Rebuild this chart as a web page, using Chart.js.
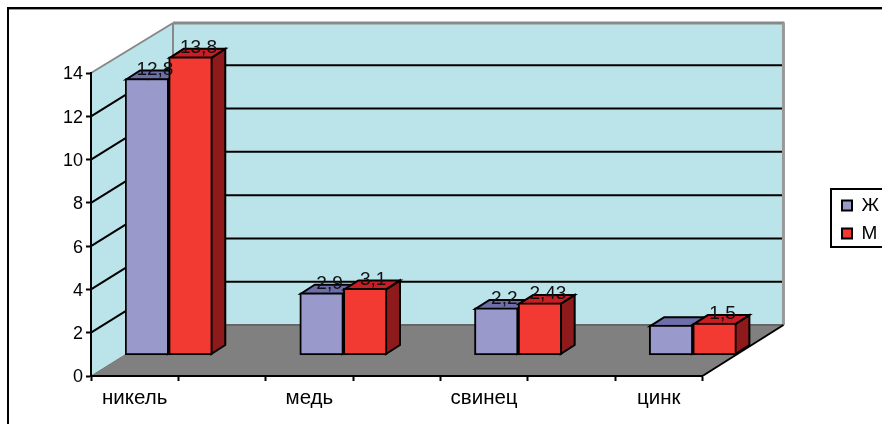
<!DOCTYPE html>
<html lang="ru">
<head>
<meta charset="UTF-8">
<title>Металлы</title>
<style>
    html, body { margin: 0; padding: 0; background: #fff; }
    canvas { display: block; }
</style>
<script src="https://cdn.jsdelivr.net/npm/chart.js@4"></script>
</head>
<body>
<canvas id="myChart" width="882" height="424"></canvas>
<script>
const categories = ['никель', 'медь', 'свинец', 'цинк'];
const seriesNames = ['Ж', 'М'];
const femaleValues = [12.8, 2.9, 2.2, 1.4];
const maleValues = [13.8, 3.1, 2.43, 1.5];
// the zinc bar of the first series carries no label in this chart
const femaleLabelled = [true, true, true, false];
const maleLabelled = [true, true, true, true];
const xTickValues = [-0.25, 0, 0.25, 0.75, 1, 1.25, 1.75, 2, 2.25, 2.75, 3, 3.25];

const FONT = 'Liberation Sans';
// offsets of the pseudo 3D box
const WALL_DX = 82, WALL_DY = -51;
const BAR_DX = 34, BAR_DY = -20.5;
const SIDE_DX = 14, SIDE_DY = -9;

function polygon(ctx, pts, fill, stroke, width) {
    ctx.beginPath();
    pts.forEach((p, i) => i ? ctx.lineTo(p[0], p[1]) : ctx.moveTo(p[0], p[1]));
    ctx.closePath();
    if (fill) { ctx.fillStyle = fill; ctx.fill(); }
    if (stroke) { ctx.strokeStyle = stroke; ctx.lineWidth = width; ctx.stroke(); }
}

function line(ctx, x1, y1, x2, y2, color, width) {
    ctx.beginPath();
    ctx.moveTo(x1, y1);
    ctx.lineTo(x2, y2);
    ctx.strokeStyle = color;
    ctx.lineWidth = width;
    ctx.stroke();
}

const box3d = {
    id: 'box3d',
    afterLayout(chart) {
        // legend sits in its own framed box, half cut by the right edge
        const lg = chart.legend;
        const w = lg.width, h = lg.height;
        lg.left = 833; lg.top = 187; lg.right = lg.left + w; lg.bottom = lg.top + h;
        lg.adjustHitBoxes();
    },
    beforeDraw(chart) {
        const ctx = chart.ctx, a = chart.chartArea, y = chart.scales.y;
        const t = a.top, b = a.bottom, l = a.left, r = a.right;
        const backL = l + WALL_DX, backR = r + WALL_DX - 1;
        const backT = t + WALL_DY + 1, backB = b + WALL_DY;
        ctx.save();

        // outer frame, only top and left are on the canvas
        line(ctx, 8, 9.5, 882, 9.5, '#999', 1);
        line(ctx, 8, 8, 882, 8, '#000', 2);
        line(ctx, 8, 7, 8, 424, '#000', 2);

        // walls and floor
        const wall = '#bbe4ea';
        polygon(ctx, [[l, t], [backL, backT], [backL, backB], [l, b]], wall);
        polygon(ctx, [[backL, backT], [backR, backT], [backR, backB], [backL, backB]], wall);
        polygon(ctx, [[l, b], [backL, backB], [backR, backB], [r, b]], '#808080');

        // grid lines run along the side wall and then the back wall
        y.ticks.forEach(tick => {
            if (tick.value === 0 || tick.value === 14) return;
            const py = y.getPixelForValue(tick.value);
            line(ctx, l, py, backL, py + WALL_DY, '#000', 2);
            line(ctx, backL, py + WALL_DY, backR, py + WALL_DY, '#000', 2);
        });

        // wall edges
        line(ctx, l, t, backL, backT, '#888', 2);
        line(ctx, backL, backT, backR + 1, backT, '#888', 3);
        line(ctx, backL, backT, backL, backB, '#888', 2);
        line(ctx, backR, backT, backR, backB, '#999', 3);
        line(ctx, backL, backB, backR, backB, '#666', 2);
        line(ctx, l, b, backL, backB, '#777', 1);
        line(ctx, r, b, backR, backB, '#000', 2);

        // legend frame
        ctx.fillStyle = '#fff';
        ctx.fillRect(831, 189, 60, 58);
        ctx.strokeStyle = '#000';
        ctx.lineWidth = 2;
        ctx.strokeRect(831, 189, 60, 58);
        ctx.restore();
    },
    beforeDatasetsDraw(chart) {
        const ctx = chart.ctx;
        ctx.save();
        ctx.translate(BAR_DX, BAR_DY);
        // first series faces go down first, the second series covers them
        chart.data.datasets.forEach((ds, di) => {
            chart.getDatasetMeta(di).data.forEach(bar => {
                const p = bar.getProps(['x', 'y', 'base', 'width'], true);
                const x1 = p.x - p.width / 2 + 1, x2 = p.x + p.width / 2 - 1;
                const top = p.y + 1, base = p.base - 1;
                polygon(ctx, [[x2, top], [x2 + SIDE_DX, top + SIDE_DY], [x2 + SIDE_DX, base + SIDE_DY], [x2, base]], ds.sideColor, '#000', 2);
                polygon(ctx, [[x1, top], [x1 + SIDE_DX, top + SIDE_DY], [x2 + SIDE_DX, top + SIDE_DY], [x2, top]], ds.topColor, '#000', 2);
            });
        });
    },
    afterDatasetsDraw(chart) {
        const ctx = chart.ctx;
        ctx.restore();
        // value labels over the back edge of each bar top
        ctx.save();
        ctx.font = '19px "' + FONT + '"';
        ctx.fillStyle = '#111';
        ctx.textAlign = 'center';
        ctx.textBaseline = 'middle';
        chart.data.datasets.forEach((ds, di) => {
            chart.getDatasetMeta(di).data.forEach((bar, i) => {
                if (!ds.labelled[i]) return;
                const p = bar.getProps(['x', 'y'], true);
                const text = String(ds.data[i].y).replace('.', ',');
                ctx.fillText(text, p.x + BAR_DX + SIDE_DX / 2 + 1, p.y + BAR_DY + SIDE_DY);
            });
        });
        ctx.restore();
    }
};

new Chart(document.getElementById('myChart'), {
    type: 'bar',
    data: {
        datasets: [
            {
                label: seriesNames[0],
                data: femaleValues.map((v, i) => ({ x: i, y: v })),
                labelled: femaleLabelled,
                backgroundColor: '#9999cc',
                topColor: '#6e6eaa',
                sideColor: '#4d4d80',
                borderColor: '#000',
                borderWidth: 2,
                borderSkipped: false,
                barThickness: 43.6
            },
            {
                label: seriesNames[1],
                data: maleValues.map((v, i) => ({ x: i, y: v })),
                labelled: maleLabelled,
                backgroundColor: '#f23a33',
                topColor: '#c81e24',
                sideColor: '#8e1a1c',
                borderColor: '#000',
                borderWidth: 2,
                borderSkipped: false,
                barThickness: 43.6
            }
        ]
    },
    options: {
        responsive: false,
        animation: false,
        layout: { padding: { left: 0, top: 73, right: 123.5, bottom: 0 } },
        plugins: {
            tooltip: { enabled: false },
            legend: {
                position: 'right',
                align: 'start',
                labels: {
                    boxWidth: 10,
                    boxHeight: 10,
                    padding: 9,
                    color: '#000',
                    font: { family: FONT, size: 19 }
                }
            }
        },
        scales: {
            x: {
                type: 'linear',
                offset: false,
                min: -0.25,
                max: 3.25,
                afterBuildTicks: s => { s.ticks = xTickValues.map(value => ({ value })); },
                afterFit: s => { s.height = 48; },
                grid: {
                    offset: false,
                    drawOnChartArea: false,
                    tickLength: 5,
                    tickWidth: 2,
                    // integer positions only hold a label, the marks fall between
                    tickColor: c => c.tick && Number.isInteger(c.tick.value) ? 'rgba(0,0,0,0)' : '#000'
                },
                border: { color: '#000', width: 2 },
                ticks: {
                    autoSkip: false,
                    maxRotation: 0,
                    padding: 5,
                    color: '#000',
                    font: { family: FONT, size: 20.5 },
                    callback: v => Number.isInteger(v) ? categories[v] : ''
                }
            },
            y: {
                min: 0,
                max: 14,
                afterFit: s => { s.width = 91; },
                grid: { drawOnChartArea: false, tickLength: 5, tickWidth: 2, tickColor: '#000' },
                border: { color: '#000', width: 2 },
                ticks: {
                    stepSize: 2,
                    padding: 3,
                    labelOffset: 1.5,
                    color: '#000',
                    font: { family: FONT, size: 18 }
                }
            }
        }
    },
    plugins: [box3d]
});
</script>
</body>
</html>
